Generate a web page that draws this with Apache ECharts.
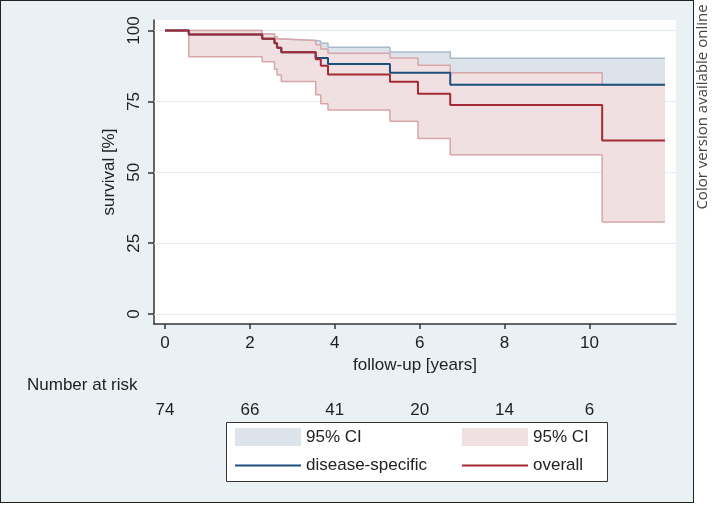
<!DOCTYPE html>
<html>
<head>
<meta charset="utf-8">
<script src="https://cdn.jsdelivr.net/npm/echarts@6/dist/echarts.min.js"></script>
<style>
  html, body { margin: 0; padding: 0; background: #ffffff; }
  #frame { position: absolute; left: 0; top: 0; width: 694px; height: 503px; box-sizing: border-box;
           background: #e9f1f4; border: 1.5px solid #222; }
  #chart { position: absolute; left: 0; top: 0; width: 712px; height: 505px; }
</style>
</head>
<body>
<div id="frame"></div>
<div id="chart"></div>
<script>
// ---- data ----
const xTicks = [0, 2, 4, 6, 8, 10];
const atRisk = [74, 66, 41, 20, 14, 6];
const yTicks = [0, 25, 50, 75, 100];

const timeOverall = [0, 0.56, 2.29, 2.58, 2.64, 2.74, 3.55, 3.67, 3.84, 5.30, 5.96, 6.72, 10.30, 11.78];
const survOverall = [100, 98.6, 97.1, 95.5, 93.9, 92.3, 89.9, 87.6, 84.5, 81.9, 77.7, 73.7, 61.2, 61.2];
const ciUpOverall = [100, 100, 98.8, 97.8, 97.0, 96.5, 95.0, 93.5, 92.0, 90.3, 87.7, 85.1, 80.8, 80.8];
const ciLoOverall = [100, 90.7, 89.0, 86.3, 84.3, 82.0, 77.3, 74.2, 72.0, 68.0, 61.9, 56.2, 32.5, 32.5];

const timeDisease = [0, 0.56, 2.29, 2.58, 2.64, 2.74, 3.55, 3.67, 3.84, 5.30, 6.72, 11.78];
const survDisease = [100, 98.6, 97.1, 95.5, 93.9, 92.3, 90.3, 90.3, 88.2, 85.1, 80.9, 80.9];
const ciUpDisease = [100, 100, 98.8, 97.8, 97.0, 96.5, 96.3, 95.5, 94.1, 92.4, 90.2, 90.2];
const ciLoDisease = [100, 90.7, 89.0, 86.3, 84.3, 82.0, 79.5, 79.5, 77.0, 73.5, 68.0, 68.0];

// ---- styles ----
const fam = "'Liberation Sans', Arial, sans-serif";
const fs = 17;
const txt = '#222';
const blueLine = '#1d4f7e', redLine = '#a52a34';
const blueFill = '#dce3ea', blueEdge = '#a9bccd';
const redFill = '#f0e0e1', redEdge = '#d8a6a9';
const lineIcon = 'path://M0,0H66V1.8H0Z';

const pairs = (t, v) => t.map((x, i) => [x, v[i]]);
const band = (t, lo, up) => t.map((x, i) => [x, lo[i], up[i]]);

function bandRender(params, api) {
  if (params.dataIndexInside !== 0) return null;
  const n = params.dataInsideLength;
  const top = [], bot = [];
  for (let i = 0; i < n; i++) {
    const t = api.value(0, i);
    if (i > 0) {
      top.push(api.coord([t, api.value(2, i - 1)]));
      bot.push(api.coord([t, api.value(1, i - 1)]));
    }
    top.push(api.coord([t, api.value(2, i)]));
    bot.push(api.coord([t, api.value(1, i)]));
  }
  return { type: 'polygon', shape: { points: top.concat(bot.reverse()) },
           style: { fill: api.visual('color') } };
}

function stepLine(name, data, color, width, z) {
  return {
    type: 'line', name: name, data: data, step: 'end', symbol: 'none', showSymbol: false,
    lineStyle: { color: color, width: width }, itemStyle: { color: color },
    silent: true, animation: false, z: z
  };
}

const chart = echarts.init(document.getElementById('chart'), null, { renderer: 'canvas' });
chart.setOption({
  animation: false,
  backgroundColor: 'transparent',
  textStyle: { fontFamily: fam },
  title: {
    text: 'Number at risk', left: 22, top: 372, padding: 5,
    textStyle: { fontFamily: fam, fontSize: fs, fontWeight: 'normal', color: txt }
  },
  grid: { left: 154, right: 36, top: 20, bottom: 181, show: true, backgroundColor: '#ffffff', borderWidth: 0 },
  xAxis: [{
    type: 'value', min: -0.26, max: 12.04,
    axisLine: { show: true, onZero: false, lineStyle: { color: '#333', width: 1.5 } },
    axisTick: { show: true, customValues: xTicks, length: 5, lineStyle: { color: '#333', width: 1.5 } },
    axisLabel: { customValues: xTicks, margin: 11, fontSize: fs, color: txt, fontFamily: fam },
    splitLine: { show: false },
    name: 'follow-up [years]', nameLocation: 'middle', nameGap: 29,
    nameTextStyle: { fontSize: fs, color: txt, fontFamily: fam }
  }, {
    type: 'value', min: -0.26, max: 12.04, position: 'bottom', offset: 69,
    axisLine: { show: false }, axisTick: { show: false }, splitLine: { show: false },
    axisLabel: { customValues: xTicks, margin: 9, fontSize: fs, color: txt, fontFamily: fam,
                 formatter: v => String(atRisk[xTicks.indexOf(v)]) }
  }],
  yAxis: {
    type: 'value', min: -3.5, max: 103.7,
    axisLine: { show: true, onZero: false, lineStyle: { color: '#333', width: 1.5 } },
    axisTick: { show: true, customValues: yTicks, length: 6, lineStyle: { color: '#333', width: 1.5 } },
    axisLabel: { customValues: yTicks, rotate: 90, margin: 11, fontSize: fs, color: txt, fontFamily: fam },
    splitLine: { show: false },
    name: 'survival [%]', nameLocation: 'middle', nameRotate: 90, nameGap: 24,
    nameTextStyle: { fontSize: fs, color: txt, fontFamily: fam }
  },
  legend: [{
    left: 235, top: 428, orient: 'vertical', padding: 0, itemWidth: 66, itemHeight: 18, itemGap: 11,
    selectedMode: false, textStyle: { fontSize: fs, color: txt, fontFamily: fam },
    data: [{ name: '95% CI', icon: 'rect', itemStyle: { color: blueFill, borderWidth: 0 } },
           { name: 'disease-specific', icon: lineIcon, itemStyle: { color: blueLine, borderWidth: 0 } }]
  }, {
    left: 462, top: 428, orient: 'vertical', padding: 0, itemWidth: 66, itemHeight: 18, itemGap: 11,
    selectedMode: false, textStyle: { fontSize: fs, color: txt, fontFamily: fam },
    data: [{ name: '95% CI ', icon: 'rect', itemStyle: { color: redFill, borderWidth: 0 } },
           { name: 'overall', icon: lineIcon, itemStyle: { color: redLine, borderWidth: 0 } }]
  }],
  graphic: [
    { type: 'rect', z: 0, shape: { x: 226.5, y: 422.5, width: 381, height: 59 },
      style: { fill: '#ffffff', stroke: '#333', lineWidth: 1 } },
    { type: 'text', x: 703, y: 107, rotation: Math.PI / 2,
      style: { text: 'Color version available online', fill: '#444', font: "15px 'Open Sans', sans-serif",
               align: 'center', verticalAlign: 'middle' } }
  ],
  series: [
    { type: 'custom', name: '95% CI', coordinateSystem: 'cartesian2d', renderItem: bandRender,
      data: band(timeDisease, ciLoDisease, ciUpDisease), encode: { x: 0, y: [1, 2] },
      itemStyle: { color: blueFill }, silent: true, z: 2,
      markLine: { silent: true, symbol: 'none', z: 1, label: { show: false },
                  lineStyle: { color: '#e2edf0', width: 1, type: 'solid' },
                  data: yTicks.map(v => ({ yAxis: v })) } },
    stepLine('dsUpper', pairs(timeDisease, ciUpDisease), blueEdge, 1.5, 3),
    { type: 'custom', name: '95% CI ', coordinateSystem: 'cartesian2d', renderItem: bandRender,
      data: band(timeOverall, ciLoOverall, ciUpOverall), encode: { x: 0, y: [1, 2] },
      itemStyle: { color: redFill }, silent: true, z: 4 },
    stepLine('ovUpper', pairs(timeOverall, ciUpOverall), redEdge, 1.5, 5),
    stepLine('ovLower', pairs(timeOverall, ciLoOverall), redEdge, 1.5, 5),
    stepLine('disease-specific', pairs(timeDisease, survDisease), blueLine, 2, 6),
    stepLine('overall', pairs(timeOverall, survOverall), redLine, 2, 7)
  ]
});
</script>
</body>
</html>
